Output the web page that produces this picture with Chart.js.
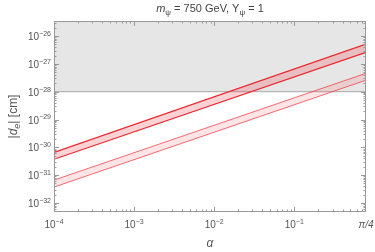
<!DOCTYPE html>
<html>
<head>
<meta charset="utf-8">
<script src="https://cdn.jsdelivr.net/npm/chart.js@4"></script>
<style>
  html, body { margin: 0; padding: 0; background: #fff; }
  #wrap { width: 375px; height: 252px; }
</style>
</head>
<body>
<div id="wrap"><canvas id="graph1" width="375" height="252"></canvas></div>
<script>
// values (log-log straight bands)
const alpha = [1e-4, 0.7854];
const darkHi = [6.6e-31, 5.2e-27];
const darkLo = [3.7e-31, 2.6e-27];
const lightHi = [6.6e-32, 4.6e-28];
const lightLo = [3.7e-32, 2.6e-28];
const bound = [1e-28, 1e-28];

const xTicks = [1e-4, 1e-3, 1e-2, 1e-1, 0.7854];
const xLabels = [['10', '-4'], ['10', '-3'], ['10', '-2'], ['10', '-1'], ['\u03c0/4', '']];
const yTicks = [1e-32, 1e-31, 1e-30, 1e-29, 1e-28, 1e-27, 1e-26];
const yLabels = [['10', '-32'], ['10', '-31'], ['10', '-30'], ['10', '-29'], ['10', '-28'], ['10', '-27'], ['10', '-26']];

const pts = (ys) => alpha.map((a, i) => ({ x: a, y: ys[i] }));

const textCol = '#555555';
const frameCol = '#9a9a9a';
const font = '"Liberation Sans", Arial, sans-serif';

// draw a run of pieces: [text, style] where style is 'n', 'i', 'sub', 'sup'
function drawRich(ctx, parts, x, y, size, align) {
    const fontFor = (st) => {
        if (st === 'i') return 'italic ' + size + 'px ' + font;
        if (st === 'isub') return 'italic ' + Math.round(size * 0.72) + 'px ' + font;
        if (st === 'sub' || st === 'sup') return Math.round(size * 0.72) + 'px ' + font;
        return size + 'px ' + font;
    };
    let w = 0;
    parts.forEach(p => { ctx.font = fontFor(p[1]); w += ctx.measureText(p[0]).width; });
    let cx = align === 'center' ? x - w / 2 : (align === 'right' ? x - w : x);
    ctx.textAlign = 'left';
    ctx.textBaseline = 'alphabetic';
    parts.forEach(p => {
        ctx.font = fontFor(p[1]);
        let dy = 0;
        if (p[1] === 'sub' || p[1] === 'isub') dy = size * 0.25;
        if (p[1] === 'sup') dy = -size * 0.42;
        ctx.fillText(p[0], cx, y + dy);
        cx += ctx.measureText(p[0]).width;
    });
    return w;
}

const framePlugin = {
    id: 'frame',
    afterDatasetsDraw(chart) {
        const ctx = chart.ctx;
        const a = chart.chartArea;
        const xs = chart.scales.x, ys = chart.scales.y;
        ctx.save();
        ctx.strokeStyle = frameCol;
        ctx.lineWidth = 1;
        ctx.strokeRect(a.left + 0.5, a.top + 0.5, a.right - a.left - 1, a.bottom - a.top - 1);

        ctx.beginPath();
        // x ticks, bottom and top
        for (let e = -4; e <= -1; e++) {
            for (let m = 1; m <= 9; m++) {
                const v = m * Math.pow(10, e);
                if (v > xs.max) continue;
                const px = Math.round(xs.getPixelForValue(v)) + 0.5;
                const len = m === 1 ? 5 : 2.5;
                ctx.moveTo(px, a.bottom); ctx.lineTo(px, a.bottom - len);
                ctx.moveTo(px, a.top); ctx.lineTo(px, a.top + len);
            }
        }
        // y ticks, left and right
        for (let e = -33; e <= -26; e++) {
            for (let m = 1; m <= 9; m++) {
                const v = m * Math.pow(10, e);
                if (v < ys.min || v > ys.max) continue;
                const py = Math.round(ys.getPixelForValue(v)) + 0.5;
                const len = m === 1 ? 5 : 2.5;
                ctx.moveTo(a.left, py); ctx.lineTo(a.left + len, py);
                ctx.moveTo(a.right, py); ctx.lineTo(a.right - len, py);
            }
        }
        ctx.stroke();

        ctx.fillStyle = textCol;
        xTicks.forEach((v, i) => {
            const px = xs.getPixelForValue(v);
            const lab = xLabels[i];
            if (lab[1]) {
                drawRich(ctx, [[lab[0], 'n'], ['\u2212' + lab[1].slice(1), 'sup']], px, a.bottom + 16, 10, 'center');
            } else {
                drawRich(ctx, [[lab[0], 'i']], px, a.bottom + 16, 10, 'center');
            }
        });
        yTicks.forEach((v, i) => {
            const py = ys.getPixelForValue(v);
            const lab = yLabels[i];
            drawRich(ctx, [[lab[0], 'n'], ['\u2212' + lab[1].slice(1), 'sup']], a.left - 3, py + 4, 10, 'right');
        });

        // title
        ctx.fillStyle = '#444444';
        drawRich(ctx, [['m', 'i'], ['\u03c8', 'sub'], [' = 750 GeV, Y', 'n'], ['\u03c8', 'sub'], [' = 1', 'n']],
            (a.left + a.right) / 2, 12, 11, 'center');

        // x title
        ctx.fillStyle = textCol;
        drawRich(ctx, [['\u03b1', 'i']], (a.left + a.right) / 2, 247, 12, 'center');

        // y title
        ctx.translate(17, (a.top + a.bottom) / 2);
        ctx.rotate(-Math.PI / 2);
        drawRich(ctx, [['|', 'n'], ['d', 'i'], ['e', 'isub'], ['| [cm]', 'n']], 0, 0, 12, 'center');
        ctx.restore();
    }
};

const chart1 = document.getElementById('graph1').getContext('2d');
const myChart1 = new Chart(chart1, {
    type: 'line',
    data: {
        datasets: [
            {
                data: pts(darkHi),
                borderColor: '#e8262c',
                backgroundColor: 'rgba(240, 30, 40, 0.2)',
                borderWidth: 1.2,
                pointRadius: 0,
                fill: '+1',
                order: 1
            },
            {
                data: pts(darkLo),
                borderColor: '#e8262c',
                borderWidth: 1.2,
                pointRadius: 0,
                fill: false,
                order: 1
            },
            {
                data: pts(lightHi),
                borderColor: 'rgba(240, 60, 70, 0.75)',
                backgroundColor: 'rgba(255, 40, 50, 0.12)',
                borderWidth: 1,
                pointRadius: 0,
                fill: '+1',
                order: 2
            },
            {
                data: pts(lightLo),
                borderColor: 'rgba(240, 60, 70, 0.75)',
                borderWidth: 1,
                pointRadius: 0,
                fill: false,
                order: 2
            },
            {
                data: pts(bound),
                borderColor: '#a8a8a8',
                backgroundColor: '#e6e6e6',
                borderWidth: 1,
                pointRadius: 0,
                fill: 'end',
                order: 10
            }
        ]
    },
    options: {
        responsive: false,
        animation: false,
        layout: {
            padding: { top: 21, right: 9, left: 0, bottom: 0 }
        },
        scales: {
            x: {
                type: 'logarithmic',
                min: 1e-4,
                max: 0.7854,
                grid: { display: false },
                border: { display: false },
                ticks: { display: false },
                afterFit: (s) => { s.height = 40; }
            },
            y: {
                type: 'logarithmic',
                min: 4.7e-33,
                max: 3.5e-26,
                grid: { display: false },
                border: { display: false },
                ticks: { display: false },
                afterFit: (s) => { s.width = 54; }
            }
        },
        plugins: {
            legend: { display: false },
            tooltip: { enabled: false }
        }
    },
    plugins: [framePlugin]
});
</script>
</body>
</html>
